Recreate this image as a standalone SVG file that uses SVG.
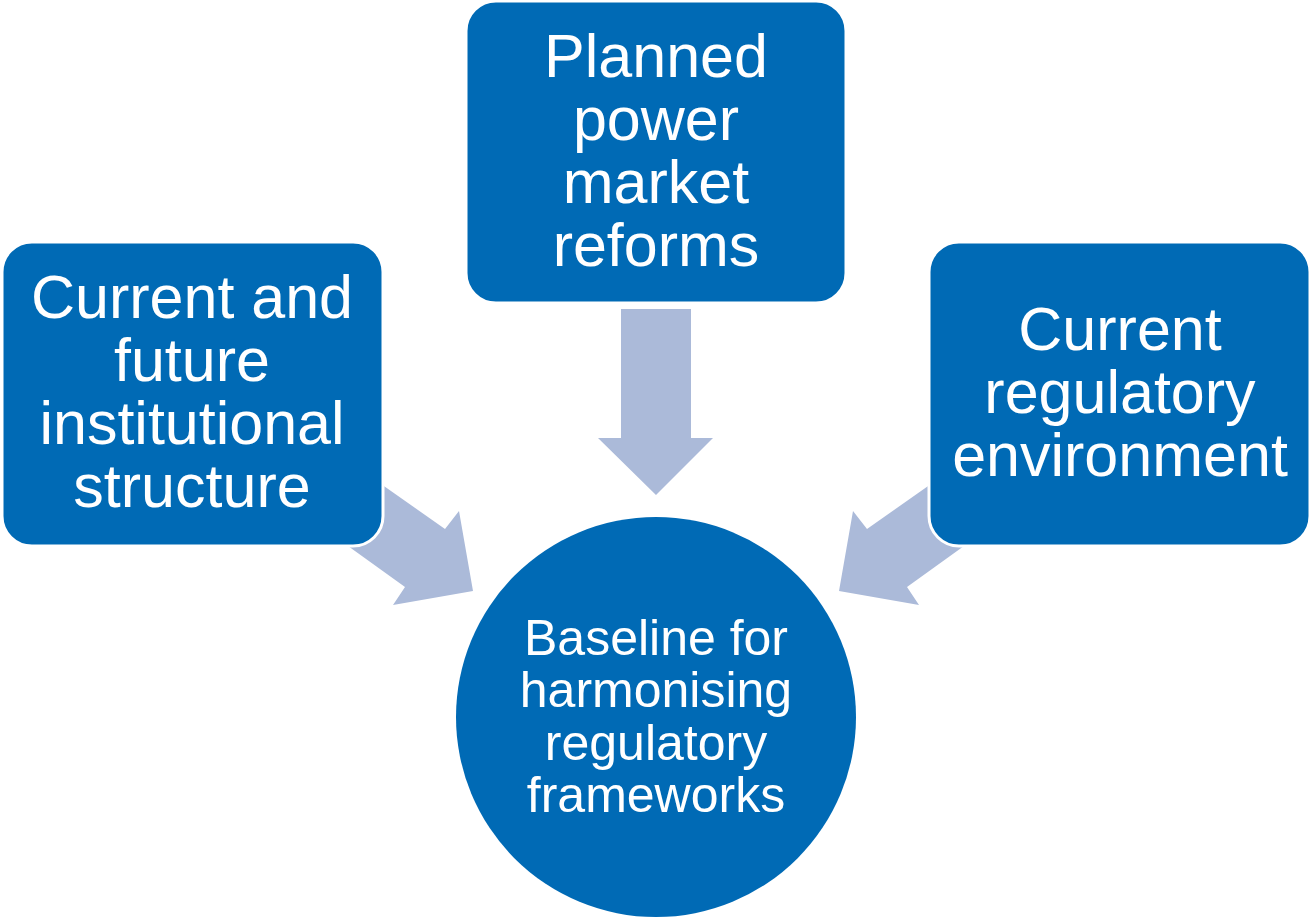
<svg xmlns="http://www.w3.org/2000/svg" width="1311" height="918" viewBox="0 0 1311 918">
<style>
.box{fill:#006AB5;stroke:#ffffff;stroke-width:3}
.arrow{fill:#ABBAD9}
.t{font-family:"Liberation Sans",Arial,sans-serif;fill:#ffffff;text-anchor:middle}
.big{font-size:61px}
.small{font-size:50px}
</style>
<rect width="1311" height="918" fill="#ffffff"/>
<g id="connectors">
<polygon class="arrow" points="621,309 691,309 691,438 713,438 656,495 598,438 621,438"/>
<polygon class="arrow" points="354,465 445,529 459,511 473,591 393,605 405,587 323,528"/>
<polygon class="arrow" points="958,465 867,529 853,511 839,591 919,605 907,587 989,528"/>
</g>
<g id="node-left">
<rect class="box" x="2" y="242" width="381" height="304" rx="30"/>
<text class="t big" x="192"><tspan x="192" y="318">Current and</tspan><tspan x="192" y="381">future</tspan><tspan x="192" y="444">institutional</tspan><tspan x="192" y="507">structure</tspan></text>
</g>
<g id="node-top">
<rect class="box" x="466" y="1" width="380" height="302" rx="30"/>
<text class="t big" x="656"><tspan x="656" y="77">Planned</tspan><tspan x="656" y="140">power</tspan><tspan x="656" y="203">market</tspan><tspan x="656" y="266">reforms</tspan></text>
</g>
<g id="node-right">
<rect class="box" x="929" y="242" width="381" height="304" rx="30"/>
<text class="t big" x="1120"><tspan x="1120" y="350">Current</tspan><tspan x="1120" y="413">regulatory</tspan><tspan x="1120" y="476">environment</tspan></text>
</g>
<g id="node-center">
<circle cx="656" cy="717" r="200" fill="#006AB5"/>
<text class="t small" x="656"><tspan x="656" y="655">Baseline for</tspan><tspan x="656" y="707">harmonising</tspan><tspan x="656" y="760">regulatory</tspan><tspan x="656" y="812">frameworks</tspan></text>
</g>
</svg>
